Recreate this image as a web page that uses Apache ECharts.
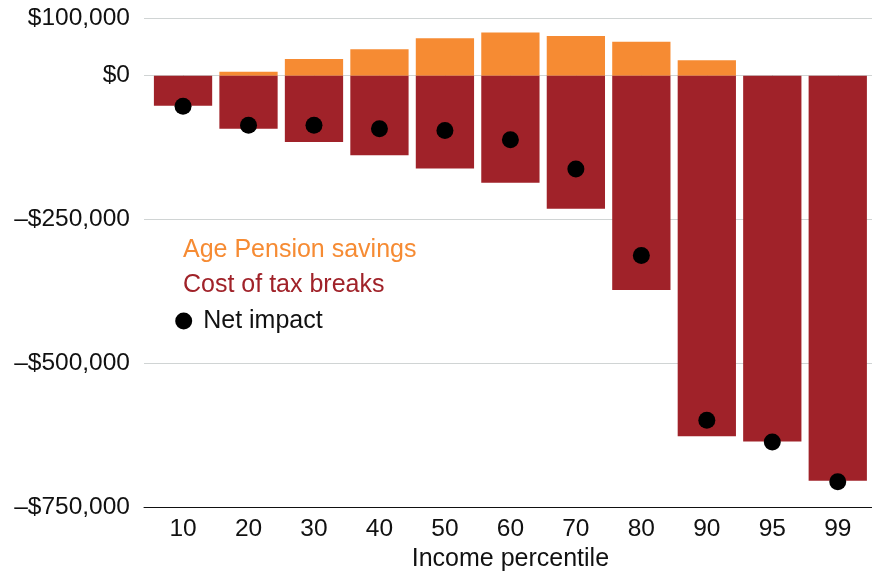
<!DOCTYPE html>
<html>
<head>
<meta charset="utf-8">
<script src="https://cdn.jsdelivr.net/npm/echarts@6/dist/echarts.min.js"></script>
<style>html,body{margin:0;padding:0;background:#fff;}#c{width:872px;height:572px;}</style>
</head>
<body>
<div id="c"></div>
<script>
const categories = ['10','20','30','40','50','60','70','80','90','95','99'];
const pensionSavings = [0, 7000, 29000, 46000, 65000, 75000, 69000, 59000, 27000, 0, 0];
const taxBreakCost = [-52000, -92000, -115000, -138000, -161000, -186000, -231000, -372000, -626000, -635000, -703000];
const netImpact = [-53000, -86000, -86000, -92000, -95000, -111000, -162000, -312000, -598000, -636000, -705000];
const yTicks = [100000, 0, -250000, -500000, -750000];

const FONT = 'Liberation Sans, Arial, sans-serif';
const ORANGE = '#F68B33';
const RED = '#A02229';

function fmt(v) {
  const s = '$' + Math.abs(v).toLocaleString('en-US');
  return v < 0 ? '\u2013' + s : s;
}

const chart = echarts.init(document.getElementById('c'), null, {renderer: 'canvas'});
chart.setOption({
  animation: false,
  backgroundColor: '#fff',
  textStyle: {fontFamily: FONT},
  grid: [
    {left: 150.3, right: 1.5, top: 18.1, bottom: 64.3, containLabel: false, outerBoundsMode: 'none'},
    {left: 144, right: 0, top: 18.1, bottom: 64.3, containLabel: false, outerBoundsMode: 'none'}
  ],
  xAxis: [
    {
      type: 'category', gridIndex: 0, data: categories,
      axisLine: {show: false},
      axisTick: {show: true, alignWithLabel: true, length: 6, lineStyle: {color: '#999'}},
      axisLabel: {color: '#111', fontSize: 24.5, fontFamily: FONT, margin: 9},
      name: 'Income percentile', nameLocation: 'middle', nameGap: 32,
      nameTextStyle: {color: '#111', fontSize: 25, fontFamily: FONT}
    },
    {
      type: 'value', gridIndex: 1, min: 0, max: 1,
      axisLine: {show: true, onZero: false, lineStyle: {color: '#111', width: 1}},
      axisTick: {show: false}, axisLabel: {show: false}, splitLine: {show: false}
    }
  ],
  yAxis: [
    {
      type: 'value', gridIndex: 0, min: -750000, max: 100000,
      show: false, splitLine: {show: false}
    },
    {
      type: 'value', gridIndex: 1, min: -750000, max: 100000,
      axisLine: {show: false},
      axisTick: {show: false, customValues: yTicks},
      axisLabel: {customValues: yTicks, formatter: fmt, color: '#111', fontSize: 24.5, fontFamily: FONT, margin: 14},
      splitLine: {show: true, lineStyle: {color: '#d0d4d4', width: 1}}
    }
  ],
  legend: [
    {
      data: [{name: 'Age Pension savings', icon: 'none'}],
      left: 178, top: 238, padding: 0, itemWidth: 0, itemHeight: 0,
      textStyle: {color: ORANGE, fontSize: 25, fontFamily: FONT}, selectedMode: false
    },
    {
      data: [{name: 'Cost of tax breaks', icon: 'none'}],
      left: 178, top: 272.5, padding: 0, itemWidth: 0, itemHeight: 0,
      textStyle: {color: RED, fontSize: 25, fontFamily: FONT}, selectedMode: false
    },
    {
      data: [{name: 'Net impact', icon: 'circle', itemStyle: {color: '#000', opacity: 1}}],
      left: 175.2, top: 308.5, padding: 0, itemWidth: 29, itemHeight: 17,
      textStyle: {color: '#111', fontSize: 25, fontFamily: FONT}, selectedMode: false
    }
  ],
  series: [
    {
      name: 'Age Pension savings', type: 'bar', xAxisIndex: 0, yAxisIndex: 0,
      data: pensionSavings, barCategoryGap: '11%', barGap: '-100%',
      itemStyle: {color: ORANGE}
    },
    {
      name: 'Cost of tax breaks', type: 'bar', xAxisIndex: 0, yAxisIndex: 0,
      data: taxBreakCost, barCategoryGap: '11%', barGap: '-100%',
      itemStyle: {color: RED}
    },
    {
      name: 'Net impact', type: 'scatter', xAxisIndex: 0, yAxisIndex: 0,
      data: netImpact, symbol: 'circle', symbolSize: 17,
      itemStyle: {color: '#000', opacity: 1}, z: 5
    }
  ]
});
</script>
</body>
</html>
